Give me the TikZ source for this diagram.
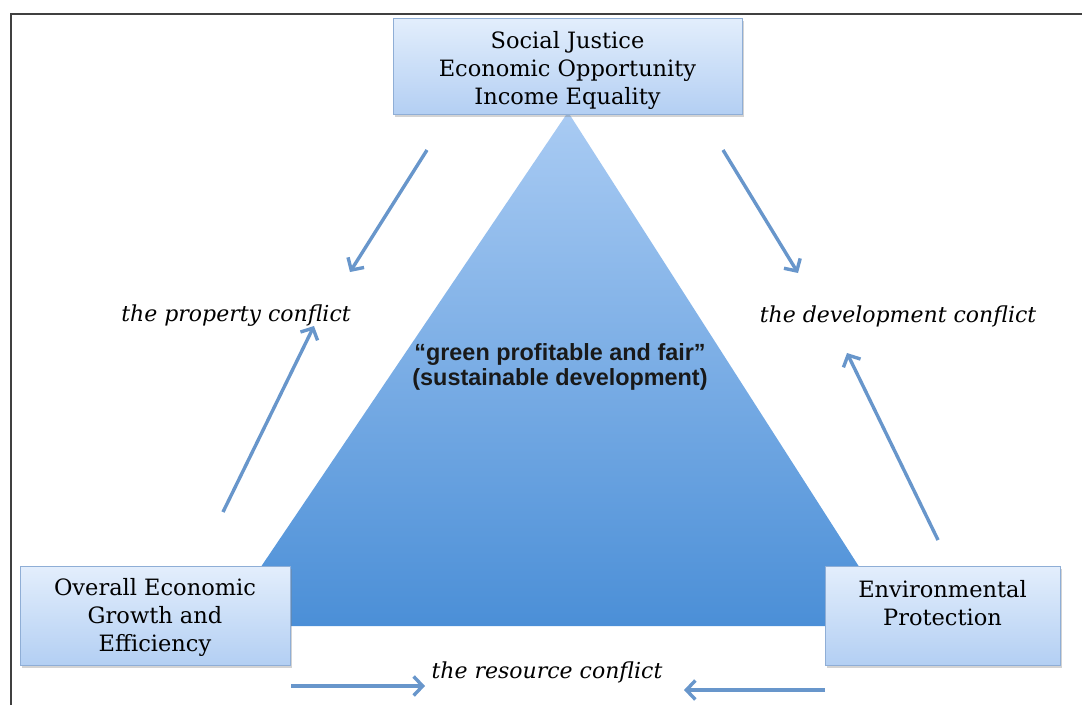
\documentclass[tikz,border=0pt]{standalone}
\usepackage{fontspec}
\setmainfont{DejaVu Serif}
\newfontfamily\boldsans{Liberation Sans}
\usetikzlibrary{arrows.meta,shadows}
\definecolor{arrowblue}{HTML}{6896CB}
\definecolor{boxtop}{HTML}{E3EEFC}
\definecolor{boxbot}{HTML}{B3CFF3}
\definecolor{boxline}{HTML}{8FAED6}
\definecolor{tritop}{HTML}{A9CBF3}
\definecolor{tribot}{HTML}{4B8FD7}
\definecolor{framegray}{HTML}{404040}
\tikzset{
  box/.style={draw=boxline, line width=0.8pt, top color=boxtop, bottom color=boxbot,
    inner sep=0pt,
    drop shadow={shadow xshift=1.5pt, shadow yshift=-2.5pt, opacity=0.35}},
  boxtext/.style={align=center, font=\fontsize{22.5}{28}\selectfont, inner sep=0pt},
  conf/.style={font=\fontsize{22}{24}\selectfont\itshape, inner sep=0pt},
  arr/.style={draw=arrowblue, line width=3.4pt, -{Straight Barb[length=9pt,width=19pt,line width=3.4pt]}},
  centertext/.style={font=\boldsans\bfseries\fontsize{23.4}{25}\selectfont, align=center, text=black!90}
}
\begin{document}
\begin{tikzpicture}[x=1pt,y=-1pt]
\useasboundingbox (0,0) rectangle (1082,705);
% frame
\draw[framegray, line width=2pt] (11,705) -- (11,14) -- (1082,14);
% triangle
\shade[top color=tritop, bottom color=tribot] (568,112) -- (897,626) -- (221,626) -- cycle;
\node[centertext] (ctr) at (560,367) {“green profitable and fair”\\(sustainable development)};
% boxes
\node[box, minimum width=349pt, minimum height=96pt] (top) at (567.5,66) {};
\node[boxtext] (toptext) at (567.5,70) {Social Justice\\Economic Opportunity\\Income Equality};
\node[box, minimum width=270pt, minimum height=99pt] (left) at (155,615.5) {};
\node[boxtext] (lefttext) at (155,617) {Overall Economic\\Growth and\\Efficiency};
\node[box, minimum width=235pt, minimum height=99pt] (right) at (942.5,615.5) {};
\node[boxtext] (righttext) at (942.5,603) {Environmental\\Protection};
% labels
\node[conf] (prop) at (236,316) {the property conflict};
\node[conf] (dev) at (898,316) {the development conflict};
\node[conf] (res) at (547,672) {the resource conflict};
% arrow end coordinates
\coordinate (a1s) at (427,150); \coordinate (a1e) at (350,272);
\coordinate (a2s) at (223,512); \coordinate (a2e) at (314,326);
\coordinate (a3s) at (723,150); \coordinate (a3e) at (798,273);
\coordinate (a4s) at (938,540); \coordinate (a4e) at (847,353);
\coordinate (a5s) at (291,686); \coordinate (a5e) at (425,686);
\coordinate (a6s) at (825,690); \coordinate (a6e) at (684,690);
\draw[arr] (a1s) -- (a1e);
\draw[arr] (a2s) -- (a2e);
\draw[arr] (a3s) -- (a3e);
\draw[arr] (a4s) -- (a4e);
\draw[arr] (a5s) -- (a5e);
\draw[arr] (a6s) -- (a6e);
\end{tikzpicture}
\end{document}
